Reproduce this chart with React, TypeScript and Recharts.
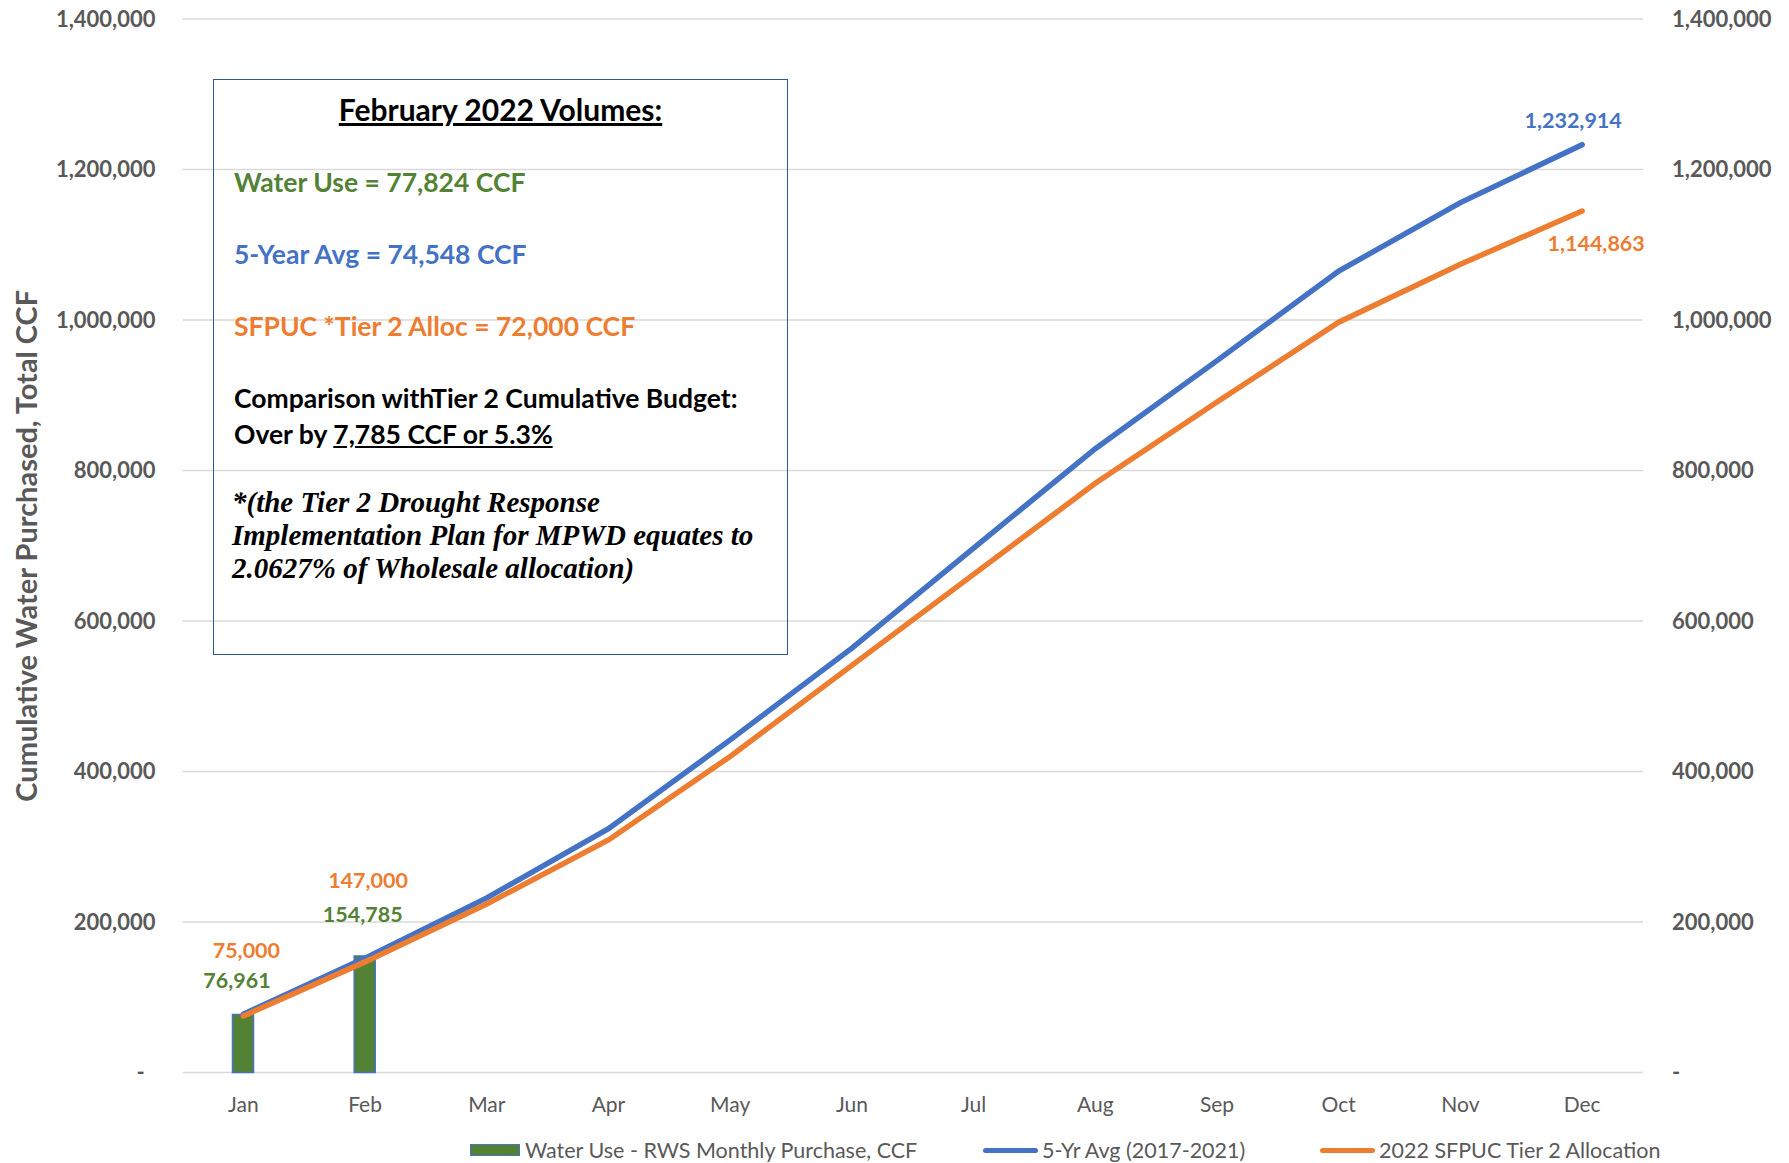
import React from "react";
import { ComposedChart, Bar, Line, XAxis, YAxis, CartesianGrid, Legend, LabelList } from "recharts";

const months = ["Jan", "Feb", "Mar", "Apr", "May", "Jun", "Jul", "Aug", "Sep", "Oct", "Nov", "Dec"];
const waterUse = [76961, 154785, null, null, null, null, null, null, null, null, null, null];
const fiveYrAvg = [77500, 152000, 232000, 324000, 442000, 564000, 697000, 829000, 946000, 1065000, 1156000, 1232914];
const tier2Alloc = [75000, 147000, 224000, 309000, 420000, 541000, 662000, 783000, 891000, 997000, 1074000, 1144863];
const yTicks = [0, 200000, 400000, 600000, 800000, 1000000, 1200000, 1400000];

const GREEN = "#548235";
const BLUE = "#4472C4";
const ORANGE = "#ED7D31";
const GRAY = "#595959";
const FONT = "Lato, 'Noto Sans', sans-serif";

const data = months.map((m, i) => ({
  month: m,
  waterUse: waterUse[i],
  avg: fiveYrAvg[i],
  alloc: tier2Alloc[i],
}));

const fmt = (v: number) => v.toLocaleString("en-US");

// hand-placed label offsets (dx, dy from the mark), like the Excel original
const barLabelPos: Record<number, [number, number]> = { 0: [-6, -35], 1: [-2, -42] };
const allocLabelPos: Record<number, [number, number]> = { 0: [3, -66], 1: [3, -82], 11: [14, 32] };
const avgLabelPos: Record<number, [number, number]> = { 11: [-9, -25] };

const makeLabel = (pos: Record<number, [number, number]>, color: string, isBar = false) =>
  (props: any) => {
    const { x, y, width, value, index } = props;
    const p = pos[index];
    if (!p || value == null) return null;
    const cx = isBar ? x + width / 2 : x;
    return (
      <text
        x={cx + p[0]}
        y={y + p[1]}
        textAnchor="middle"
        dominantBaseline="central"
        fill={color}
        fontSize={21.5}
        fontWeight={700}
        fontFamily={FONT}
      >
        {fmt(value)}
      </text>
    );
  };

const leftTick = (v: number) => (v === 0 ? "-\u00A0\u00A0" : fmt(v));
const rightTick = (v: number) => (v === 0 ? "-" : fmt(v));

const YTitle = (props: any) => {
  const { viewBox } = props;
  const cy = viewBox.y + viewBox.height / 2;
  return (
    <text
      x={25}
      y={cy}
      transform={`rotate(-90, 25, ${cy})`}
      textAnchor="middle"
      dominantBaseline="central"
      fill={GRAY}
      fontSize={29}
      fontWeight={700}
      fontFamily={FONT}
    >
      Cumulative Water Purchased, Total CCF
    </text>
  );
};

const LegendContent = () => (
  <div
    style={{
      display: "flex",
      alignItems: "center",
      paddingLeft: 470,
      paddingTop: 14,
      height: 40,
      boxSizing: "border-box",
      fontFamily: FONT,
      fontSize: 21.5,
      color: GRAY,
      lineHeight: "22px",
    }}
  >
    <div style={{ display: "flex", alignItems: "center", width: 513 }}>
      <span style={{ width: 48, height: 10, background: GREEN, border: `1.5px solid ${BLUE}`, marginRight: 5 }} />
      <span>Water Use - RWS Monthly Purchase, CCF</span>
    </div>
    <div style={{ display: "flex", alignItems: "center", width: 337 }}>
      <span style={{ width: 55, height: 5, background: BLUE, borderRadius: 3, marginRight: 4 }} />
      <span>5-Yr Avg (2017-2021)</span>
    </div>
    <div style={{ display: "flex", alignItems: "center" }}>
      <span style={{ width: 55, height: 5, background: ORANGE, borderRadius: 3, marginRight: 4 }} />
      <span>2022 SFPUC Tier 2 Allocation</span>
    </div>
  </div>
);

const line = (top: number, style: React.CSSProperties, content: React.ReactNode) => (
  <div style={{ position: "absolute", left: 20, right: 4, top, whiteSpace: "nowrap", ...style }}>{content}</div>
);

const InfoBox = () => (
  <div
    style={{
      position: "absolute",
      left: 213,
      top: 79,
      width: 575,
      height: 576,
      border: "1.5px solid #2F5597",
      boxSizing: "border-box",
      fontFamily: FONT,
      fontWeight: 700,
      fontSize: 26.5,
      lineHeight: "32px",
    }}
  >
    <div
      style={{
        position: "absolute",
        left: 0,
        right: 0,
        top: 11,
        textAlign: "center",
        fontSize: 30,
        lineHeight: "36px",
        color: "#000",
        textDecoration: "underline",
      }}
    >
      February 2022 Volumes:
    </div>
    {line(86, { color: GREEN }, "Water Use = 77,824 CCF")}
    {line(158, { color: BLUE }, "5-Year Avg = 74,548 CCF")}
    {line(230, { color: ORANGE }, "SFPUC *Tier 2 Alloc = 72,000 CCF")}
    {line(302, { color: "#000" }, "Comparison withTier 2 Cumulative Budget:")}
    {line(338, { color: "#000" }, (
      <span>
        Over by <span style={{ textDecoration: "underline" }}>7,785 CCF or 5.3%</span>
      </span>
    ))}
    <div
      style={{
        position: "absolute",
        left: 18,
        right: 2,
        top: 406,
        color: "#000",
        whiteSpace: "nowrap",
        fontFamily: "'Liberation Serif', 'DejaVu Serif', serif",
        fontStyle: "italic",
        fontWeight: 700,
        fontSize: 29,
        lineHeight: "33px",
      }}
    >
      *(the Tier 2 Drought Response
      <br />
      Implementation Plan for MPWD equates to
      <br />
      2.0627% of Wholesale allocation)
    </div>
  </div>
);

export default function App() {
  return (
    <div style={{ position: "absolute", left: 0, top: 0, width: 1789, height: 1163, background: "#fff", fontFamily: FONT }}>
      <ComposedChart width={1789} height={1163} data={data} margin={{ top: 19, right: 0, bottom: 0, left: 0 }}>
        <CartesianGrid vertical={false} yAxisId="left" stroke="#D9D9D9" strokeWidth={1.5} />
        <XAxis
          dataKey="month"
          axisLine={false}
          tickLine={false}
          height={50.5}
          tickMargin={19}
          tick={{ fill: GRAY, fontSize: 21, fontFamily: FONT }}
        />
        <YAxis
          yAxisId="left"
          width={182.5}
          domain={[0, 1400000]}
          ticks={yTicks}
          axisLine={false}
          tickLine={false}
          tickMargin={21}
          tickFormatter={leftTick}
          tick={{ fill: GRAY, fontSize: 22, fontWeight: 700, fontFamily: FONT }}
          label={<YTitle />}
        />
        <YAxis
          yAxisId="right"
          orientation="right"
          width={146}
          domain={[0, 1400000]}
          ticks={yTicks}
          axisLine={false}
          tickLine={false}
          tickMargin={23}
          tickFormatter={rightTick}
          tick={{ fill: GRAY, fontSize: 22, fontWeight: 700, fontFamily: FONT }}
        />
        <Legend verticalAlign="bottom" content={<LegendContent />} wrapperStyle={{ left: 0, width: 1789 }} />
        <Bar
          yAxisId="left"
          dataKey="waterUse"
          name="Water Use - RWS Monthly Purchase, CCF"
          fill={GREEN}
          stroke={BLUE}
          strokeWidth={1.5}
          barSize={21}
          isAnimationActive={false}
        >
          <LabelList dataKey="waterUse" content={makeLabel(barLabelPos, GREEN, true)} />
        </Bar>
        <Line
          yAxisId="right"
          dataKey="alloc"
          stroke="none"
          legendType="none"
          dot={false}
          activeDot={false}
          isAnimationActive={false}
        />
        <Line
          yAxisId="left"
          dataKey="avg"
          name="5-Yr Avg (2017-2021)"
          stroke={BLUE}
          strokeWidth={5.5}
          strokeLinecap="round"
          dot={false}
          activeDot={false}
          isAnimationActive={false}
        >
          <LabelList dataKey="avg" content={makeLabel(avgLabelPos, BLUE)} />
        </Line>
        <Line
          yAxisId="left"
          dataKey="alloc"
          name="2022 SFPUC Tier 2 Allocation"
          stroke={ORANGE}
          strokeWidth={5.5}
          strokeLinecap="round"
          dot={false}
          activeDot={false}
          isAnimationActive={false}
        >
          <LabelList dataKey="alloc" content={makeLabel(allocLabelPos, ORANGE)} />
        </Line>
      </ComposedChart>
      <InfoBox />
    </div>
  );
}
